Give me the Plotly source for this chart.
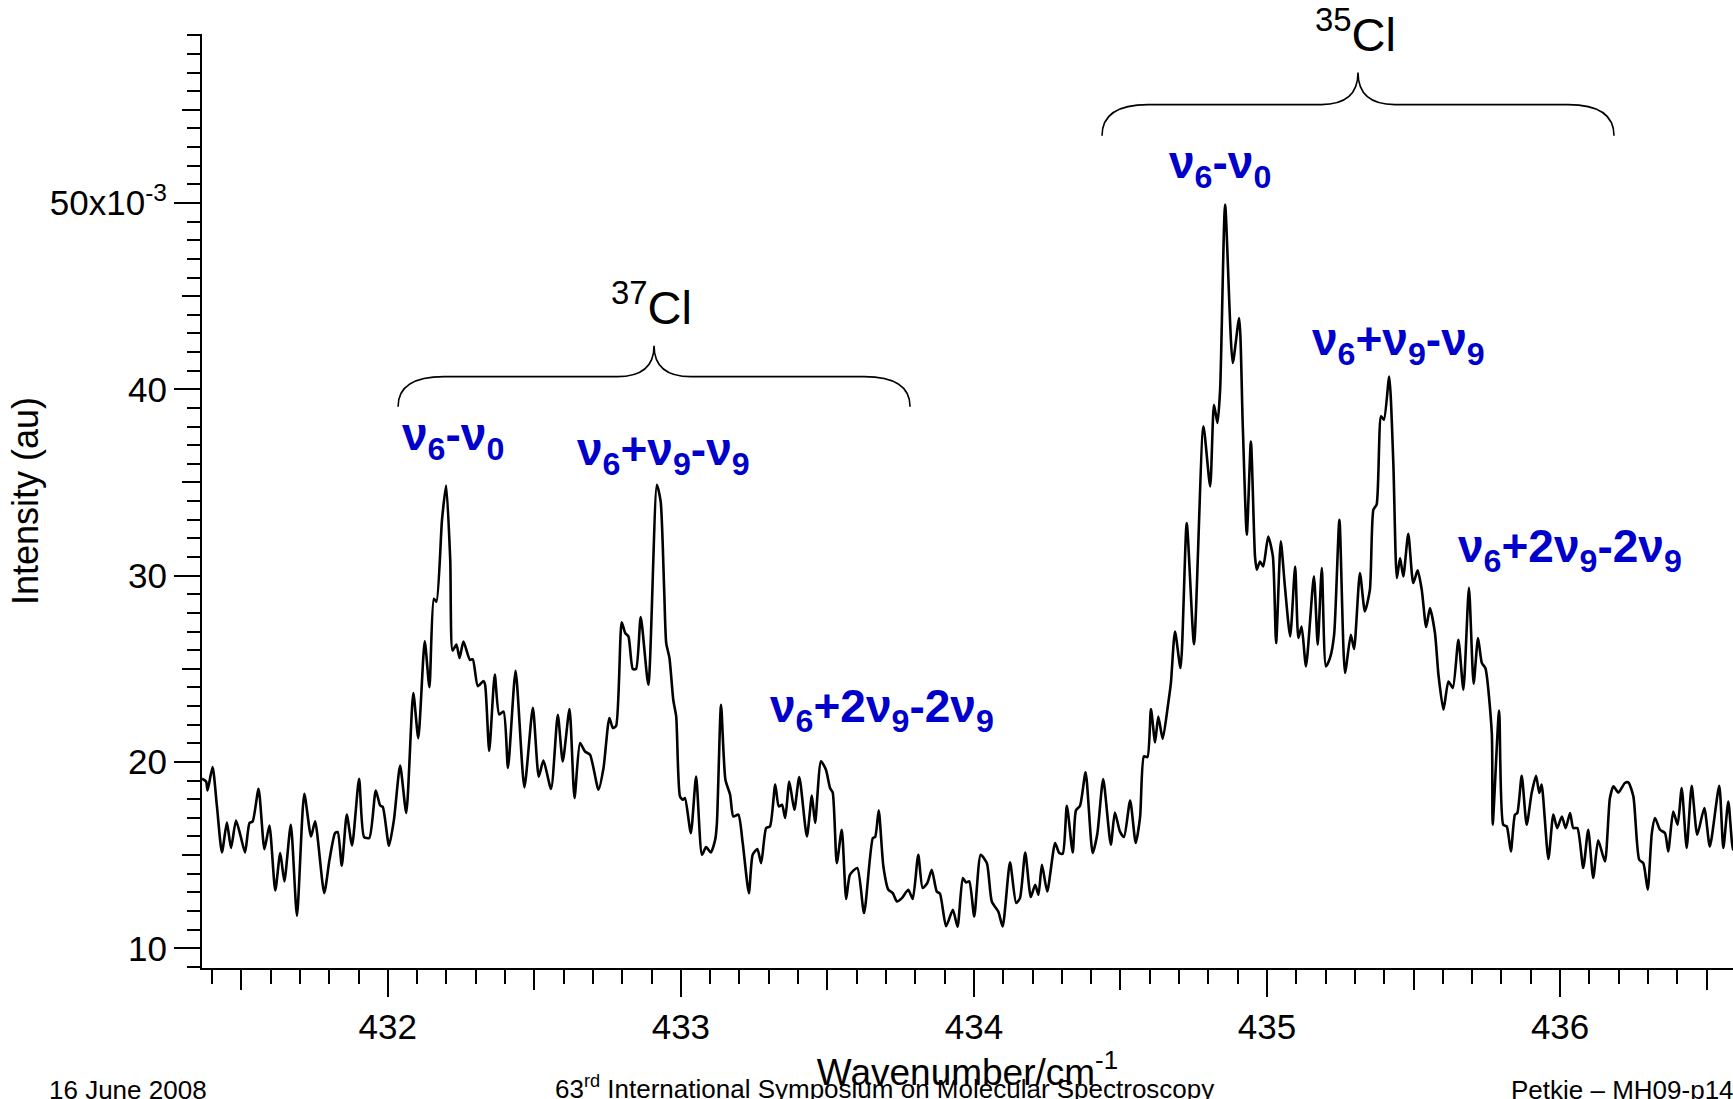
import plotly.graph_objects as go

# ---------------- data ----------------
wavenumber = [
    431.366, 431.380, 431.385, 431.402, 431.417, 431.434, 431.451, 431.465, 431.482, 431.498,
    431.513, 431.528, 431.539, 431.559, 431.579, 431.596, 431.616, 431.633, 431.647, 431.669,
    431.690, 431.715, 431.738, 431.752, 431.783, 431.801, 431.820, 431.829, 431.843, 431.860,
    431.878, 431.902, 431.919, 431.937, 431.959, 431.974, 431.983, 432.004, 432.021, 432.042,
    432.063, 432.087, 432.104, 432.126, 432.142, 432.157, 432.166, 432.185, 432.199, 432.213,
    432.221, 432.234, 432.245, 432.258, 432.280, 432.290, 432.307, 432.326, 432.332, 432.346,
    432.365, 432.380, 432.395, 432.410, 432.436, 432.466, 432.495, 432.515, 432.531, 432.557,
    432.580, 432.597, 432.620, 432.637, 432.656, 432.673, 432.690, 432.719, 432.736, 432.756,
    432.768, 432.779, 432.798, 432.810, 432.821, 432.836, 432.847, 432.863, 432.889, 432.918,
    432.931, 432.943, 432.950, 432.961, 432.974, 432.984, 432.997, 433.007, 433.014, 433.034,
    433.052, 433.072, 433.086, 433.102, 433.117, 433.123, 433.137, 433.152, 433.168, 433.179,
    433.196, 433.211, 433.232, 433.245, 433.261, 433.274, 433.291, 433.304, 433.322, 433.334,
    433.345, 433.356, 433.370, 433.387, 433.404, 433.430, 433.447, 433.458, 433.478, 433.495,
    433.509, 433.518, 433.532, 433.549, 433.564, 433.577, 433.602, 433.625, 433.655, 433.663,
    433.675, 433.691, 433.708, 433.723, 433.737, 433.754, 433.776, 433.791, 433.810, 433.825,
    433.841, 433.856, 433.873, 433.884, 433.905, 433.928, 433.944, 433.962, 433.973, 433.984,
    434.001, 434.023, 434.044, 434.061, 434.083, 434.098, 434.123, 434.144, 434.157, 434.175,
    434.194, 434.209, 434.220, 434.232, 434.250, 434.277, 434.291, 434.303, 434.317, 434.337,
    434.348, 434.362, 434.381, 434.405, 434.421, 434.441, 434.467, 434.481, 434.498, 434.512,
    434.533, 434.552, 434.567, 434.580, 434.592, 434.604, 434.618, 434.629, 434.644, 434.663,
    434.672, 434.686, 434.705, 434.726, 434.751, 434.783, 434.806, 434.819, 434.831, 434.840,
    434.857, 434.883, 434.905, 434.917, 434.931, 434.945, 434.959, 434.965, 434.976, 434.987,
    435.004, 435.020, 435.031, 435.047, 435.061, 435.079, 435.096, 435.107, 435.118, 435.133,
    435.160, 435.173, 435.187, 435.201, 435.215, 435.229, 435.247, 435.266, 435.286, 435.297,
    435.317, 435.334, 435.351, 435.363, 435.374, 435.389, 435.399, 435.417, 435.431, 435.443,
    435.454, 435.465, 435.482, 435.499, 435.514, 435.528, 435.543, 435.556, 435.573, 435.585,
    435.602, 435.619, 435.634, 435.653, 435.670, 435.689, 435.705, 435.720, 435.733, 435.745,
    435.767, 435.770, 435.792, 435.806, 435.818, 435.832, 435.846, 435.854, 435.869, 435.886,
    435.903, 435.918, 435.929, 435.937, 435.960, 435.977, 435.990, 436.006, 436.019, 436.034,
    436.045, 436.059, 436.079, 436.096, 436.113, 436.130, 436.153, 436.170, 436.182, 436.199,
    436.221, 436.233, 436.250, 436.270, 436.284, 436.299, 436.313, 436.324, 436.341, 436.358,
    436.369, 436.386, 436.401, 436.415, 436.432, 436.449, 436.468, 436.492, 436.511, 436.543,
    436.557, 436.574, 436.590, 436.610,
]

# intensity in units of 1e-3 (au)
intensity = [
    19.10, 18.95, 18.47, 19.73, 17.61, 15.14, 16.75, 15.38, 16.86, 16.00,
    15.14, 16.72, 16.81, 18.56, 15.32, 16.59, 13.10, 15.11, 13.59, 16.63,
    11.74, 18.29, 16.00, 16.81, 12.96, 14.75, 16.18, 16.24, 14.43, 17.17,
    15.52, 19.10, 15.97, 15.92, 18.47, 17.66, 17.58, 15.50, 16.90, 19.80,
    17.26, 23.70, 21.28, 26.48, 24.01, 28.76, 28.60, 33.00, 34.83, 30.85,
    25.98, 26.30, 25.58, 26.46, 25.48, 25.51, 24.07, 24.34, 24.14, 20.59,
    24.69, 22.55, 22.70, 19.68, 24.89, 18.63, 22.90, 19.21, 20.08, 18.55,
    22.53, 20.03, 22.84, 18.06, 21.01, 20.56, 20.39, 18.51, 19.67, 22.36,
    21.82, 21.94, 27.49, 26.92, 26.74, 24.99, 24.99, 27.78, 24.14, 34.88,
    33.98, 29.24, 26.38, 25.58, 23.34, 22.44, 18.15, 17.97, 18.06, 16.18,
    19.22, 15.02, 15.43, 15.14, 15.82, 16.72, 23.07, 19.04, 18.24, 17.07,
    17.17, 15.65, 12.96, 15.02, 15.32, 14.57, 16.45, 16.54, 18.78, 17.61,
    17.70, 16.99, 18.95, 17.43, 19.19, 16.00, 18.19, 16.72, 20.03, 19.58,
    18.60, 18.36, 14.57, 16.36, 12.64, 13.95, 14.31, 11.89, 15.92, 15.97,
    17.40, 14.39, 13.14, 12.96, 12.51, 12.69, 13.14, 12.64, 15.02, 13.23,
    13.50, 14.21, 13.05, 12.93, 11.18, 12.07, 11.15, 13.77, 13.53, 13.59,
    11.71, 15.02, 14.57, 12.51, 11.97, 11.17, 14.61, 12.43, 12.69, 15.14,
    12.75, 13.41, 12.87, 14.48, 13.05, 15.65, 15.11, 15.07, 17.65, 15.14,
    17.40, 17.65, 19.44, 15.11, 16.15, 19.08, 15.56, 17.29, 16.27, 15.97,
    17.93, 15.65, 17.07, 20.30, 20.26, 22.84, 21.05, 22.44, 21.23, 23.16,
    24.23, 27.00, 25.04, 32.82, 26.32, 38.01, 34.79, 39.17, 38.19, 39.98,
    49.91, 41.41, 43.83, 38.19, 32.20, 37.20, 31.03, 30.32, 30.76, 30.49,
    32.10, 31.03, 26.38, 31.84, 29.42, 26.74, 30.49, 26.65, 27.27, 25.13,
    29.96, 26.29, 30.41, 25.13, 25.58, 26.83, 33.00, 24.77, 26.83, 26.06,
    30.14, 28.08, 29.24, 33.54, 33.81, 38.55, 38.37, 40.69, 36.04, 29.87,
    30.94, 29.96, 32.25, 29.60, 30.28, 29.24, 27.24, 28.26, 26.92, 24.68,
    22.80, 24.32, 23.97, 26.56, 23.88, 29.35, 24.20, 26.65, 25.31, 25.04,
    21.55, 16.63, 22.76, 16.63, 16.54, 15.20, 17.17, 17.26, 19.26, 16.63,
    18.33, 19.26, 18.33, 18.78, 14.79, 17.17, 16.45, 17.07, 16.45, 17.26,
    16.45, 16.45, 14.31, 16.36, 13.77, 15.79, 14.66, 18.06, 18.69, 18.36,
    18.87, 18.90, 18.15, 14.75, 14.57, 13.14, 16.18, 16.99, 16.36, 16.18,
    15.20, 17.34, 16.63, 18.60, 15.38, 18.72, 16.09, 17.53, 15.46, 18.72,
    15.38, 17.88, 15.29, 17.00,
]

y_tick_values = [10, 20, 30, 40, 50]
y_tick_labels = ["10", "20", "30", "40", "50x10<sup>-3</sup>"]

band_labels = [
    "<b>ν<sub>6</sub>-ν<sub>0</sub></b>",
    "<b>ν<sub>6</sub>+ν<sub>9</sub>-ν<sub>9</sub></b>",
    "<b>ν<sub>6</sub>+2ν<sub>9</sub>-2ν<sub>9</sub></b>",
    "<b>ν<sub>6</sub>-ν<sub>0</sub></b>",
    "<b>ν<sub>6</sub>+ν<sub>9</sub>-ν<sub>9</sub></b>",
    "<b>ν<sub>6</sub>+2ν<sub>9</sub>-2ν<sub>9</sub></b>",
]
band_label_x = [432.221, 432.942, 433.686, 434.840, 435.450, 436.034]
band_label_y = [37.40, 36.60, 22.83, 52.00, 42.50, 31.41]

isotope_labels = ["<sup>37</sup>Cl", "<sup>35</sup>Cl"]

# brace extents (x start, x end, y of the curled ends, y of the bar, y of the tip)
brace_x0 = [432.035, 434.437]
brace_x1 = [433.782, 436.184]
brace_y_end = [39.07, 53.61]
brace_y_bar = [40.68, 55.28]
brace_y_tip = [42.34, 57.00]

x_range = [431.366, 436.590]
y_range = [8.94, 59.07]

FONT = "Liberation Sans, Arial, Helvetica, sans-serif"

# ---------------- figure ----------------
fig = go.Figure()
fig.add_trace(go.Scatter(
    x=wavenumber, y=intensity, mode="lines",
    line=dict(color="black", width=2.6, shape="spline", smoothing=0.6),
    showlegend=False, hoverinfo="x+y",
))
# helper trace so the overlaid tick-only axes are drawn
fig.add_trace(go.Scatter(
    x=wavenumber[:1], y=intensity[:1], xaxis="x2", yaxis="y2", mode="markers",
    marker=dict(opacity=0), showlegend=False, hoverinfo="skip",
))

axis_common = dict(showgrid=False, zeroline=False, ticks="outside", tickwidth=2,
                   tickcolor="black")

fig.update_layout(
    width=1733, height=1099,
    margin=dict(l=202, r=0, t=34, b=131, autoexpand=False),
    plot_bgcolor="white", paper_bgcolor="white",
    font=dict(family=FONT, color="black"),
    showlegend=False,
    xaxis=dict(
        range=x_range, tickmode="linear", tick0=432, dtick=1, ticklen=27,
        showline=True, linecolor="black", linewidth=2,
        tickfont=dict(size=35, family=FONT, color="black"),
        minor=dict(ticks="outside", tick0=432, dtick=0.1, ticklen=14, tickwidth=2,
                   tickcolor="black", showgrid=False),
        title=dict(text="Wavenumber/cm<sup>-1</sup>", font=dict(size=37, family=FONT),
                   standoff=12),
        automargin=False,
        **axis_common,
    ),
    xaxis2=dict(
        range=x_range, overlaying="x", anchor="y", side="bottom",
        tickmode="linear", tick0=431.5, dtick=0.5, ticklen=20.5,
        showticklabels=False, showline=False, automargin=False,
        **axis_common,
    ),
    yaxis=dict(
        range=y_range, tickmode="array", tickvals=y_tick_values, ticktext=y_tick_labels,
        ticklen=26, showline=True, linecolor="black", linewidth=2,
        tickfont=dict(size=35, family=FONT, color="black"),
        minor=dict(ticks="outside", tick0=10, dtick=1, ticklen=13, tickwidth=2,
                   tickcolor="black", showgrid=False),
        title=dict(text="Intensity (au)", font=dict(size=36, family=FONT), standoff=0),
        automargin=False,
        **axis_common,
    ),
    yaxis2=dict(
        range=y_range, overlaying="y", anchor="x", side="left",
        tickmode="linear", tick0=5, dtick=5, ticklen=19.5,
        showticklabels=False, showline=False, automargin=False,
        **axis_common,
    ),
)

# band labels (blue, bold)
for txt, bx, by in zip(band_labels, band_label_x, band_label_y):
    fig.add_annotation(x=bx, y=by, xref="x", yref="y", text=txt, showarrow=False,
                       xanchor="center", yanchor="middle",
                       font=dict(size=46, color="#0000CC", family=FONT))

# curly braces built from the brace extents, isotope label above each tip
for txt, x0, x1, ye, yb, yt in zip(isotope_labels, brace_x0, brace_x1,
                                   brace_y_end, brace_y_bar, brace_y_tip):
    xc = (x0 + x1) / 2
    w_end = 0.157
    w_tip = 0.126
    path = (f"M {x0},{ye} Q {x0},{yb} {x0 + w_end},{yb} "
            f"L {xc - w_tip},{yb} Q {xc},{yb} {xc},{yt} "
            f"Q {xc},{yb} {xc + w_tip},{yb} "
            f"L {x1 - w_end},{yb} Q {x1},{yb} {x1},{ye}")
    fig.add_shape(type="path", path=path, xref="x", yref="y",
                  line=dict(color="black", width=1.6))
    fig.add_annotation(x=xc - 0.01, y=yt, xref="x", yref="y", text=txt, showarrow=False,
                       xanchor="center", yanchor="bottom", yshift=10,
                       font=dict(size=47, color="black", family=FONT))

# slide footer
footer = [
    ("16 June 2008", -0.101, -0.1126),
    ("63<sup>rd</sup> International Symposium on Molecular Spectroscopy", 0.2294, -0.1084),
    ("Petkie – MH09-p14", 0.8537, -0.1126),
]
for txt, fx, fy in footer:
    fig.add_annotation(x=fx, y=fy, xref="paper", yref="paper", text=txt, showarrow=False,
                       xanchor="left", yanchor="top",
                       font=dict(size=26, color="black", family=FONT))

fig.write_html(
    "out.html",
    config={"displayModeBar": False},
    post_script="document.body.style.margin='0px';document.body.style.padding='0px';",
)
